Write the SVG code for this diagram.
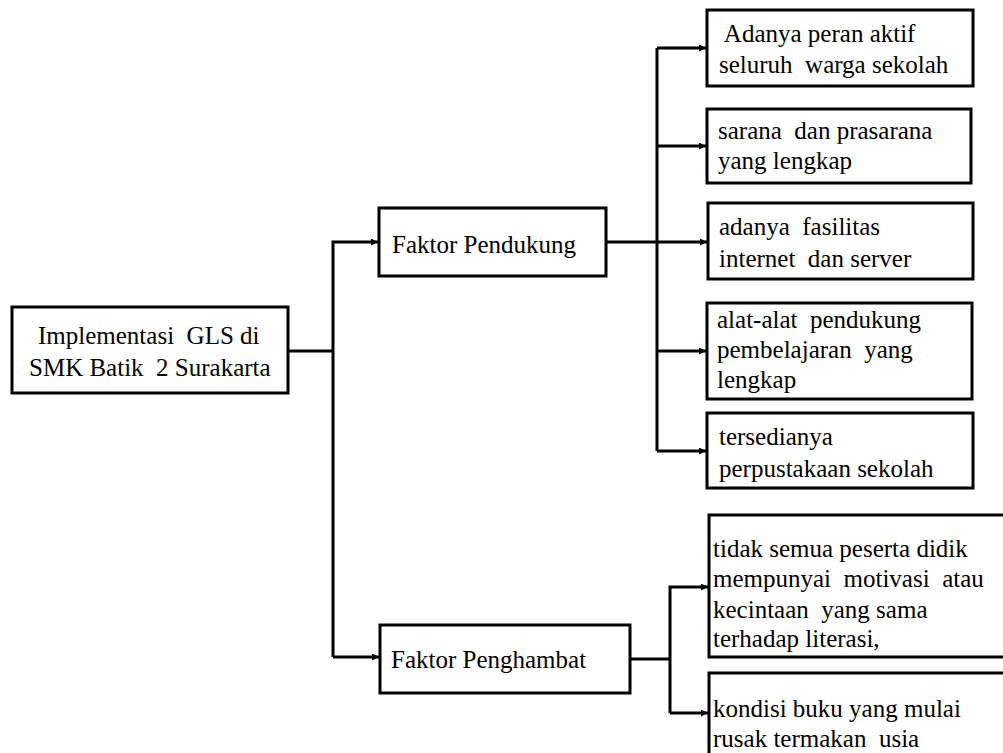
<svg xmlns="http://www.w3.org/2000/svg" width="1003" height="753" viewBox="0 0 1003 753">
<style>
.box{fill:#fff;stroke:#000;stroke-width:3}
text{font-family:'Liberation Serif','Times New Roman','DejaVu Serif',serif;font-size:25px;fill:#000;white-space:pre}
.c{fill:none;stroke:#000;stroke-width:3}
</style>
<defs>
<marker id="ah" viewBox="0 0 10 10" refX="10" refY="5" markerWidth="9" markerHeight="7" markerUnits="userSpaceOnUse" orient="auto">
<path d="M0,0 L10,5 L0,10 z" fill="#000"/>
</marker>
</defs>
<rect width="1003" height="753" fill="#fff"/>
<g id="connectors">
<path class="c" d="M288,351 H333"/>
<path class="c" d="M333,657 V242 H378" marker-end="url(#ah)"/>
<path class="c" d="M333,657 H379" marker-end="url(#ah)"/>
<path class="c" d="M606,242 H657"/>
<path class="c" d="M657,48 V451"/>
<path class="c" d="M657,48 H706" marker-end="url(#ah)"/>
<path class="c" d="M657,146 H706" marker-end="url(#ah)"/>
<path class="c" d="M657,242 H707" marker-end="url(#ah)"/>
<path class="c" d="M657,351 H706" marker-end="url(#ah)"/>
<path class="c" d="M657,451 H706" marker-end="url(#ah)"/>
<path class="c" d="M630,659 H670"/>
<path class="c" d="M670,713 V587 H708" marker-end="url(#ah)"/>
<path class="c" d="M670,713 H708" marker-end="url(#ah)"/>
</g>
<g id="main">
<rect class="box" x="12" y="307" width="276" height="86"/>
<text x="38" y="344">Implementasi  GLS di</text>
<text x="29" y="376">SMK Batik  2 Surakarta</text>
</g>
<g id="pendukung">
<rect class="box" x="379" y="208" width="227" height="68"/>
<text x="392" y="253">Faktor Pendukung</text>
</g>
<g id="penghambat">
<rect class="box" x="380" y="625" width="250" height="68"/>
<text x="391" y="668">Faktor Penghambat</text>
</g>
<g id="d1">
<rect class="box" x="707" y="10" width="266" height="76"/>
<text x="719" y="42"> Adanya peran aktif</text>
<text x="719" y="73">seluruh  warga sekolah</text>
</g>
<g id="d2">
<rect class="box" x="707" y="109" width="264" height="74"/>
<text x="718" y="139">sarana  dan prasarana</text>
<text x="718" y="169">yang lengkap</text>
</g>
<g id="d3">
<rect class="box" x="708" y="203" width="265" height="76"/>
<text x="719" y="235">adanya  fasilitas</text>
<text x="719" y="267">internet  dan server</text>
</g>
<g id="d4">
<rect class="box" x="707" y="303" width="265" height="96"/>
<text x="717" y="328">alat-alat  pendukung</text>
<text x="717" y="358">pembelajaran  yang</text>
<text x="717" y="388">lengkap</text>
</g>
<g id="d5">
<rect class="box" x="707" y="413" width="266" height="75"/>
<text x="719" y="445">tersedianya</text>
<text x="719" y="477">perpustakaan sekolah</text>
</g>
<g id="h1">
<rect class="box" x="709" y="515" width="310" height="142"/>
<text x="713" y="557">tidak semua peserta didik</text>
<text x="713" y="587">mempunyai  motivasi  atau</text>
<text x="713" y="618">kecintaan  yang sama</text>
<text x="713" y="647">terhadap literasi,</text>
</g>
<g id="h2">
<rect class="box" x="709" y="673" width="310" height="100"/>
<text x="713" y="717">kondisi buku yang mulai</text>
<text x="713" y="747">rusak termakan  usia</text>
</g>
</svg>
